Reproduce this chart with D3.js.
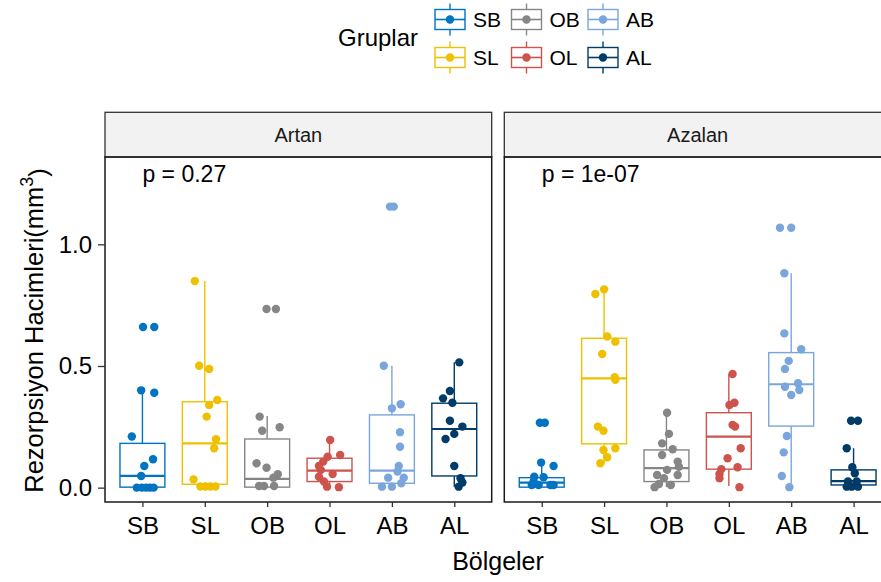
<!DOCTYPE html>
<html>
<head>
<meta charset="utf-8">
<script src="https://cdn.jsdelivr.net/npm/d3@7"></script>
<style>
  body { margin: 0; background: #fff; }
  svg { font-family: "Liberation Sans", Arial, sans-serif; display: block; }
  .tick line { stroke: #333; }
  .tick text { fill: #000; }
</style>
</head>
<body>
<div id="chart"></div>
<script>
// groups (x categories, also legend entries)
const groups = ["SB", "SL", "OB", "OL", "AB", "AL"]
const colors = ["#0073C2", "#EFC000", "#868686", "#CD534C", "#7AA6DC", "#003C67"]
const panels = ["Artan", "Azalan"]
const pLabels = ["p = 0.27", "p = 1e-07"]
const pLabelY = 1.29
const yTicks = [0, 0.5, 1.0]

// box stats per group: [lower whisker, q1, median, q3, upper whisker]
const boxArtan = [
    [0.000, 0.002, 0.048, 0.182, 0.400],
    [0.004, 0.014, 0.182, 0.353, 0.849],
    [0.002, 0.002, 0.036, 0.200, 0.294],
    [0.002, 0.025, 0.070, 0.121, 0.196],
    [0.004, 0.018, 0.070, 0.299, 0.501],
    [0.004, 0.048, 0.241, 0.347, 0.515]
]
const boxAzalan = [
    [0.002, 0.002, 0.021, 0.041, 0.103],
    [0.100, 0.180, 0.449, 0.614, 0.815],
    [0.002, 0.025, 0.080, 0.155, 0.308],
    [0.007, 0.076, 0.210, 0.308, 0.467],
    [0.002, 0.253, 0.425, 0.555, 0.881],
    [0.002, 0.011, 0.027, 0.073, 0.162]
]

// observations per group (values) and their jitter (in category units)
const valArtan = [
    [0.66, 0.66, 0.40, 0.39, 0.21, 0.117, 0.089, 0.048, 0, 0, 0, 0, 0],
    [0.849, 0.501, 0.488, 0.36, 0.34, 0.292, 0.199, 0.162, 0.034, 0.005, 0.005, 0.005, 0.005],
    [0.734, 0.734, 0.292, 0.234, 0.248, 0.10, 0.082, 0.055, 0.041, 0.007, 0.007, 0.007],
    [0.196, 0.134, 0.127, 0.107, 0.089, 0.073, 0.056, 0.045, 0.025, 0.004, 0.002],
    [1.155, 1.155, 0.501, 0.343, 0.326, 0.228, 0.168, 0.089, 0.066, 0.041, 0.041, 0.018, 0.004, 0.004],
    [0.515, 0.397, 0.367, 0.349, 0.275, 0.251, 0.221, 0.20, 0.089, 0.039, 0.021, 0.004]
]
const jitArtan = [
    [0.01, 0.19, -0.02, 0.19, -0.17, 0.17, 0.03, -0.02, -0.09, -0.01, 0.06, 0.12, 0.18],
    [-0.16, -0.09, 0.07, 0.2, 0.07, 0.03, 0.18, 0.15, -0.18, -0.07, 0.01, 0.09, 0.17],
    [-0.01, 0.14, -0.12, -0.08, 0.2, -0.17, -0.01, 0.17, 0.1, -0.13, -0.05, 0.11],
    [0.01, 0.17, -0.03, -0.1, -0.17, -0.14, 0.05, -0.17, -0.09, -0.04, 0.15],
    [-0.03, 0.03, -0.13, 0.14, 0, 0.13, 0.13, 0.11, 0.09, -0.06, 0.19, 0.15, -0.16, 0],
    [0.08, -0.07, -0.18, -0.03, -0.07, 0.13, 0, -0.14, 0, 0.1, 0.13, 0.07]
]
const valAzalan = [
    [0.267, 0.267, 0.103, 0.089, 0.045, 0.043, 0.025, 0.011, 0.011, 0.011, 0.011],
    [0.815, 0.796, 0.621, 0.60, 0.549, 0.454, 0.443, 0.251, 0.234, 0.155, 0.162, 0.125, 0.10],
    [0.308, 0.221, 0.182, 0.158, 0.134, 0.107, 0.086, 0.073, 0.052, 0.052, 0.039, 0.015, 0.011, 0.002],
    [0.467, 0.34, 0.349, 0.258, 0.251, 0.162, 0.121, 0.084, 0.076, 0.056, 0.039, 0.002],
    [1.068, 1.068, 0.881, 0.634, 0.569, 0.521, 0.488, 0.429, 0.415, 0.401, 0.381, 0.212, 0.145, 0.048, 0.002],
    [0.275, 0.275, 0.162, 0.084, 0.059, 0.025, 0.025, 0.004, 0.004, 0.004]
]
const jitAzalan = [
    [-0.03, 0.05, -0.01, 0.19, -0.12, 0.03, -0.13, -0.16, -0.05, 0.14, 0.19],
    [0, -0.14, 0.05, 0.18, -0.03, 0.17, 0.18, -0.1, -0.01, -0.01, 0.18, 0.05, -0.06],
    [0.01, 0.04, -0.07, 0.1, -0.07, 0.18, 0.2, 0.01, -0.15, 0.18, -0.04, -0.12, 0.07, -0.19],
    [0.06, 0.01, 0.09, 0.06, 0.1, 0.19, -0.02, 0.14, -0.12, -0.15, -0.15, 0.17],
    [-0.18, 0, -0.11, -0.11, 0.16, -0.04, -0.1, 0.11, -0.1, 0.13, 0, -0.07, -0.12, -0.15, -0.03],
    [-0.04, 0.07, -0.11, -0.02, 0.02, -0.09, 0.05, -0.11, -0.03, 0.07]
]

const boxes = [boxArtan, boxAzalan]
const vals = [valArtan, valAzalan]
const jits = [jitArtan, jitAzalan]

const width = 881, height = 582
const panelX = [[105, 491.7], [504.3, 891]]
const panelTop = 157, panelBottom = 502
const stripTop = 112.3

const svg = d3.select('#chart').append('svg')
    .attr('width', width)
    .attr('height', height)

const yScale = d3.scaleLinear()
    .domain([-0.059, 1.359])
    .range([panelBottom, panelTop])

const color = d3.scaleOrdinal().domain(groups).range(colors)

panels.forEach(function(name, p){
    const x0 = panelX[p][0], x1 = panelX[p][1]
    const xScale = d3.scalePoint()
        .domain(groups)
        .range([x0, x1])
        .padding(0.6)
    const step = xScale.step()
    const boxW = step * 0.72

    //strip
    svg.append('rect')
        .attr('x', x0).attr('y', stripTop)
        .attr('width', x1 - x0).attr('height', panelTop - stripTop)
        .attr('fill', '#f2f2f2')
        .attr('stroke', '#333').attr('stroke-width', 1.3)
    svg.append('text')
        .attr('x', (x0 + x1) / 2)
        .attr('y', (stripTop + panelTop) / 2)
        .attr('dy', '0.35em')
        .attr('text-anchor', 'middle')
        .attr('font-size', 20)
        .attr('fill', '#1a1a1a')
        .text(name)

    const chart = svg.append('g')

    //boxes
    const bx = chart.selectAll('g.box')
        .data(boxes[p])
        .enter()
        .append('g')
        .attr('class', 'box')
        .attr('stroke', (d, i) => colors[i])
        .attr('stroke-width', 1.4)
    bx.append('line')
        .attr('x1', (d, i) => xScale(groups[i])).attr('x2', (d, i) => xScale(groups[i]))
        .attr('y1', d => yScale(d[3])).attr('y2', d => yScale(d[4]))
    bx.append('line')
        .attr('x1', (d, i) => xScale(groups[i])).attr('x2', (d, i) => xScale(groups[i]))
        .attr('y1', d => yScale(d[1])).attr('y2', d => yScale(d[0]))
    bx.append('rect')
        .attr('x', (d, i) => xScale(groups[i]) - boxW / 2)
        .attr('width', boxW)
        .attr('y', d => yScale(d[3]))
        .attr('height', d => Math.max(0.5, yScale(d[1]) - yScale(d[3])))
        .attr('fill', '#fff')
    bx.append('line')
        .attr('x1', (d, i) => xScale(groups[i]) - boxW / 2)
        .attr('x2', (d, i) => xScale(groups[i]) + boxW / 2)
        .attr('y1', d => yScale(d[2])).attr('y2', d => yScale(d[2]))
        .attr('stroke-width', 2.2)

    //jittered points
    groups.forEach(function(g, i){
        chart.selectAll(null)
            .data(vals[p][i])
            .enter()
            .append('circle')
            .attr('cx', (d, k) => xScale(g) + jits[p][i][k] * step)
            .attr('cy', d => yScale(d))
            .attr('r', 4.2)
            .attr('fill', color(g))
    })

    //p value
    svg.append('text')
        .attr('x', xScale(groups[0]))
        .attr('y', yScale(pLabelY))
        .attr('dy', '0.35em')
        .attr('font-size', 23)
        .attr('fill', '#000')
        .text(pLabels[p])

    //panel border
    svg.append('rect')
        .attr('x', x0).attr('y', panelTop)
        .attr('width', x1 - x0).attr('height', panelBottom - panelTop)
        .attr('fill', 'none')
        .attr('stroke', '#1a1a1a').attr('stroke-width', 1.5)

    //x axis
    const xAxis = svg.append('g')
        .attr('transform', `translate(0,${panelBottom})`)
        .call(d3.axisBottom(xScale).tickSize(5).tickPadding(10))
    xAxis.select('.domain').remove()
    xAxis.selectAll('text').attr('font-size', 24)
    xAxis.selectAll('line').attr('stroke-width', 1.3)

    //y axis, left panel only
    if(p === 0){
        const yAxis = svg.append('g')
            .attr('transform', `translate(${x0},0)`)
            .call(d3.axisLeft(yScale).tickValues(yTicks).tickFormat(d3.format('.1f')).tickSize(7).tickPadding(6))
        yAxis.select('.domain').remove()
        yAxis.selectAll('text').attr('font-size', 24)
        yAxis.selectAll('line').attr('stroke-width', 1.3)
    }
})

//x axis title
svg.append('text')
    .attr('x', (panelX[0][0] + panelX[1][1]) / 2)
    .attr('y', 570)
    .attr('text-anchor', 'middle')
    .attr('font-size', 25)
    .attr('fill', '#000')
    .text('Bölgeler')

//y axis title
const yTitle = svg.append('text')
    .attr('transform', `translate(43,${(panelTop + panelBottom) / 2 + 1}) rotate(-90)`)
    .attr('text-anchor', 'middle')
    .attr('font-size', 25.5)
    .attr('fill', '#000')
yTitle.append('tspan').text('Rezorpsiyon Hacimleri(mm')
yTitle.append('tspan').attr('dy', '-0.55em').attr('font-size', 18).text('3')
yTitle.append('tspan').attr('dy', '0.55em').text(')')

//legend
const legend = svg.append('g')
legend.append('text')
    .attr('x', 338)
    .attr('y', 46)
    .attr('font-size', 24)
    .attr('fill', '#000')
    .text('Gruplar')

const key = legend.selectAll('g.key')
    .data(groups)
    .enter()
    .append('g')
    .attr('class', 'key')
    .attr('transform', (d, i) => `translate(${450 + Math.floor(i / 2) * 76.5},${19.5 + (i % 2) * 38})`)
key.append('line')
    .attr('x1', 0).attr('x2', 0).attr('y1', -16).attr('y2', 16)
    .attr('stroke', d => color(d)).attr('stroke-width', 1.4)
key.append('rect')
    .attr('x', -15).attr('y', -10).attr('width', 30).attr('height', 20)
    .attr('fill', '#fff')
    .attr('stroke', d => color(d)).attr('stroke-width', 1.4)
key.append('line')
    .attr('x1', -15).attr('x2', 15).attr('y1', 0).attr('y2', 0)
    .attr('stroke', d => color(d)).attr('stroke-width', 1.6)
key.append('circle')
    .attr('r', 4.2)
    .attr('fill', d => color(d))
key.append('text')
    .attr('x', 23)
    .attr('dy', '0.36em')
    .attr('font-size', 21)
    .attr('fill', '#000')
    .text(d => d)
</script>
</body>
</html>
